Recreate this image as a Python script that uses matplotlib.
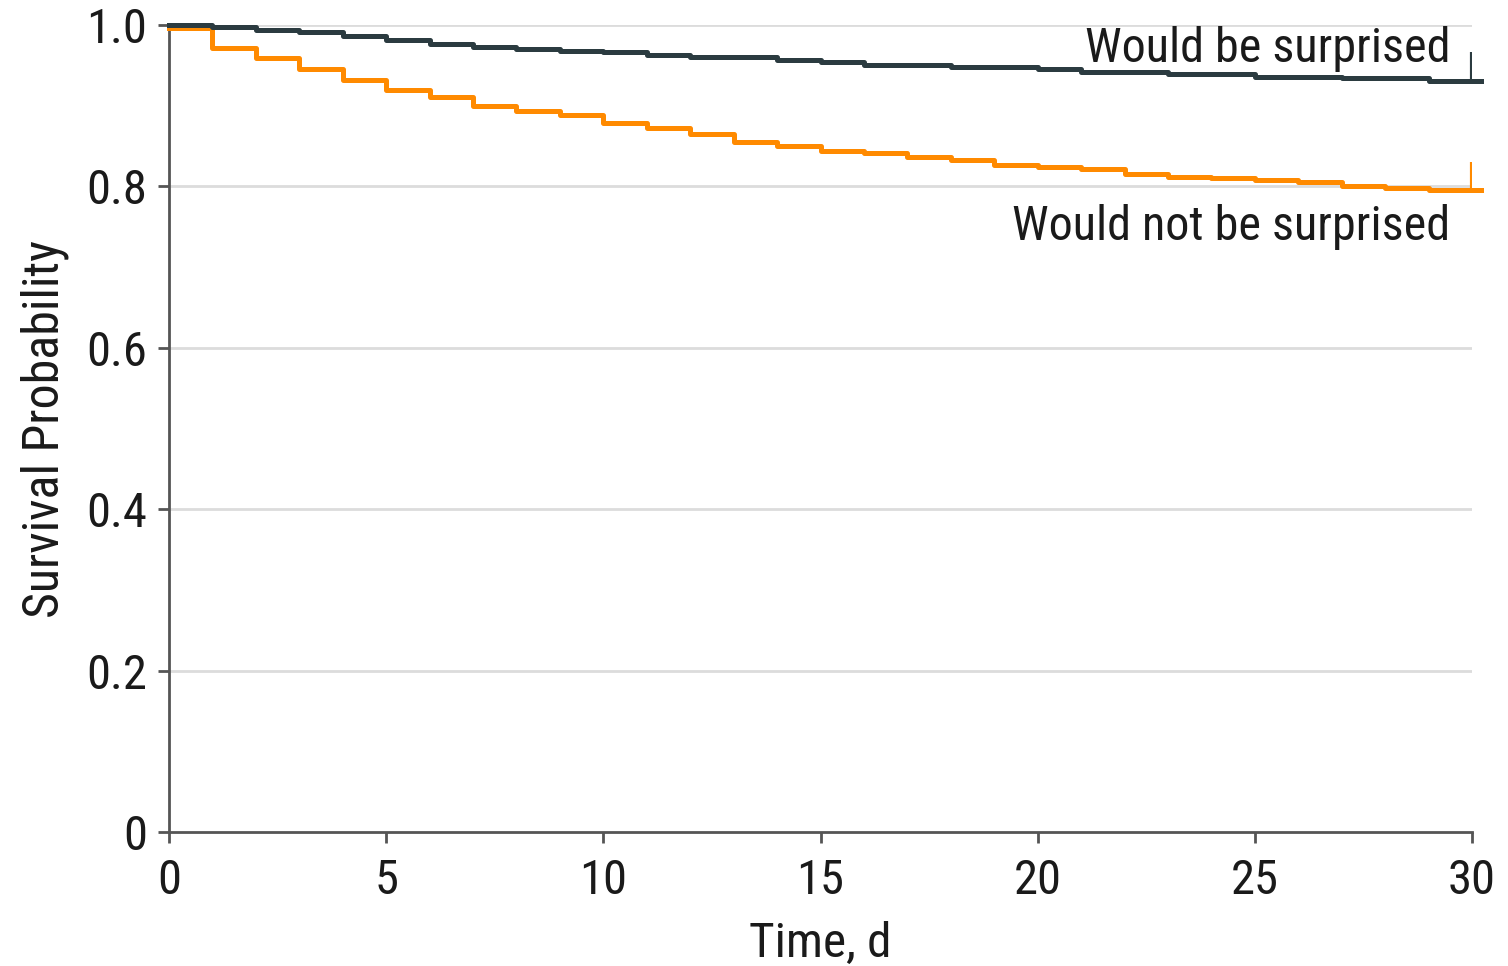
import matplotlib
matplotlib.use("Agg")
import matplotlib.pyplot as plt
from matplotlib import font_manager
import numpy as np

# ---- data ----
days = list(range(0, 31))  # step boundaries 0..30
surprised = [1.000, 0.997, 0.994, 0.991, 0.986, 0.982, 0.977, 0.973, 0.970, 0.968,
             0.966, 0.963, 0.960, 0.960, 0.957, 0.954, 0.950, 0.950, 0.948, 0.948,
             0.945, 0.942, 0.942, 0.939, 0.939, 0.936, 0.936, 0.934, 0.934, 0.931]
not_surprised = [0.996, 0.971, 0.959, 0.945, 0.932, 0.919, 0.911, 0.900, 0.893, 0.888,
                 0.879, 0.873, 0.865, 0.855, 0.850, 0.844, 0.842, 0.836, 0.833, 0.827,
                 0.824, 0.822, 0.815, 0.812, 0.810, 0.808, 0.805, 0.801, 0.798, 0.796]
label_surprised = "Would be surprised"
label_not = "Would not be surprised"
xticks = [0, 5, 10, 15, 20, 25, 30]
yticks = [0, 0.2, 0.4, 0.6, 0.8, 1.0]
yticklabels = ["0", "0.2", "0.4", "0.6", "0.8", "1.0"]

# pick a condensed font if available
entries = font_manager.fontManager.ttflist
cond = None
for pref in ["Roboto Condensed", "Liberation Sans Narrow", "DejaVu Sans Condensed",
             "Open Sans Condensed", "Noto Sans Condensed"]:
    if any(e.name == pref for e in entries):
        cond = pref
        break
scale = 1.0
if cond is None:
    cond = "DejaVu Sans"
    scale = 0.85
plt.rcParams['font.family'] = [cond, 'DejaVu Sans']

dark = "#2b3b40"
orange = "#ff8a00"
tc = "#1a1a1a"

fig = plt.figure(figsize=(15.08, 9.66), dpi=100)
ax = fig.add_axes([0.1121, 0.1387, 0.9761 - 0.1121, 0.9741 - 0.1387])

for y in yticks[1:]:
    ax.axhline(y, color="#dcdcdc", lw=2, zorder=0)

def step_xy(vals):
    xs = days[:len(vals)] + [30.2]
    ys = vals + [vals[-1]]
    return xs, ys

xs, ys = step_xy(not_surprised)
ax.step(xs, ys, where="post", color=orange, lw=3.6, clip_on=False, zorder=3)
ax.vlines(30, not_surprised[-1], not_surprised[-1] + 0.034, color=orange, lw=3, zorder=3)
xs, ys = step_xy(surprised)
ax.step(xs, ys, where="post", color=dark, lw=3.6, clip_on=False, zorder=4)
ax.vlines(30, surprised[-1], surprised[-1] + 0.036, color=dark, lw=3, zorder=4)

fs = 34.7 * scale
ax.text(29.5, 0.954, label_surprised, ha="right", va="baseline", fontsize=fs, color=tc)
ax.text(29.5, 0.734, label_not, ha="right", va="baseline", fontsize=fs, color=tc)

ax.set_xlim(0, 30)
ax.set_ylim(0, 1.0)
ax.set_xticks(xticks)
ax.set_yticks(yticks)
ax.set_yticklabels(yticklabels)
for s in ["top", "right"]:
    ax.spines[s].set_visible(False)
for s in ["left", "bottom"]:
    ax.spines[s].set_color("#555555")
    ax.spines[s].set_linewidth(2)
ax.tick_params(axis="both", direction="out", length=8, width=2, color="#555555",
               labelsize=35 * scale, labelcolor=tc)
ax.tick_params(axis="x", pad=11)
ax.tick_params(axis="y", pad=8)
ax.set_xlabel("Time, d", fontsize=35.5 * scale, color=tc, labelpad=12)
ax.set_ylabel("Survival Probability", fontsize=36 * scale, color=tc, labelpad=12)

fig.savefig("out.png", dpi=100, facecolor="white")
